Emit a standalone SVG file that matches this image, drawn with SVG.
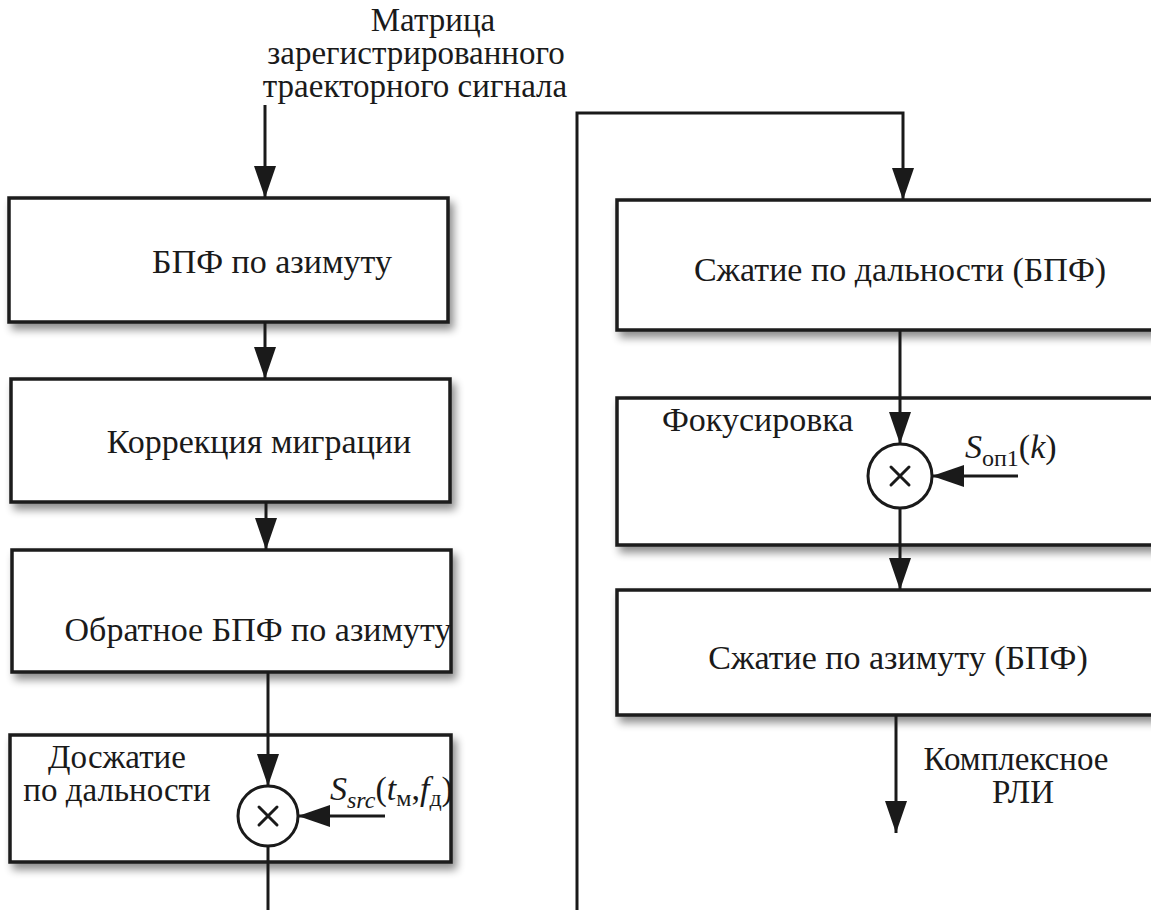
<svg xmlns="http://www.w3.org/2000/svg" width="1151" height="910" viewBox="0 0 1151 910" xml:lang="ru" lang="ru">
  <style>
    .box { fill: #ffffff; stroke: #1a1a1a; stroke-width: 3.5; }
    .wire { fill: none; stroke: #1a1a1a; stroke-width: 3; }
    .mult { fill: #ffffff; stroke: #1a1a1a; stroke-width: 3; }
    .cross { stroke: #1a1a1a; stroke-width: 3; stroke-linecap: round; }
    text { font-family: "Liberation Serif", Tinos, "Times New Roman", "DejaVu Serif", serif; fill: #1a1a1a; }
  </style>
  <defs>
    <marker id="arrow" markerUnits="userSpaceOnUse" markerWidth="32" markerHeight="22" refX="32" refY="11" orient="auto" viewBox="0 0 32 22">
      <path d="M0,0 L32,11 L0,22 Z" fill="#1a1a1a"/>
    </marker>
    <filter id="shadow" x="-5%" y="-10%" width="115%" height="130%">
      <feGaussianBlur in="SourceAlpha" stdDeviation="4"/>
      <feOffset dx="4" dy="6"/>
      <feComponentTransfer><feFuncA type="linear" slope="0.45"/></feComponentTransfer>
      <feMerge><feMergeNode/><feMergeNode in="SourceGraphic"/></feMerge>
    </filter>
  </defs>

  <!-- input label -->
  <g id="input-label">
    <text font-size="33" text-anchor="middle" x="433" y="31">Матрица</text>
    <text font-size="33" text-anchor="middle" x="416" y="64">зарегистрированного</text>
    <text font-size="33" text-anchor="middle" x="415" y="97">траекторного сигнала</text>
  </g>

  <!-- left column -->
  <g id="fft-az">
    <rect class="box" x="9" y="198" width="439" height="124" filter="url(#shadow)"/>
    <text font-size="34" text-anchor="middle" x="272" y="273">БПФ по азимуту</text>
  </g>
  <g id="migration">
    <rect class="box" x="11" y="379" width="439" height="123" filter="url(#shadow)"/>
    <text font-size="34" text-anchor="middle" x="259" y="453">Коррекция миграции</text>
  </g>
  <g id="ifft-az">
    <rect class="box" x="12" y="550" width="439" height="122" filter="url(#shadow)"/>
    <text font-size="34" text-anchor="middle" x="258" y="641">Обратное БПФ по азимуту</text>
  </g>
  <g id="range-recompress">
    <rect class="box" x="10" y="735" width="441" height="127" filter="url(#shadow)"/>
    <text font-size="33" text-anchor="middle" x="117" y="768">Досжатие</text>
    <text font-size="33" text-anchor="middle" x="117" y="801">по дальности</text>
    <circle class="mult" cx="268" cy="816" r="30"/>
    <path class="cross" d="M259,807 L277,825 M277,807 L259,825"/>
    <text font-size="34" x="330" y="800"><tspan font-style="italic">S</tspan><tspan font-style="italic" font-size="24" dy="8">src</tspan><tspan dy="-8">(</tspan><tspan font-style="italic">t</tspan><tspan font-size="24" dy="6">м</tspan><tspan dy="-6">,</tspan><tspan font-style="italic">f</tspan><tspan font-size="24" dy="6">д</tspan><tspan dy="-6">)</tspan></text>
  </g>

  <!-- right column -->
  <g id="range-compress">
    <rect class="box" x="617" y="200" width="540" height="130" filter="url(#shadow)"/>
    <text font-size="34" text-anchor="middle" x="900" y="281">Сжатие по дальности (БПФ)</text>
  </g>
  <g id="focusing">
    <rect class="box" x="617" y="398" width="540" height="147" filter="url(#shadow)"/>
    <text font-size="34" x="662" y="431">Фокусировка</text>
    <circle class="mult" cx="900" cy="476" r="32"/>
    <path class="cross" d="M891,467 L909,485 M909,467 L891,485"/>
    <text font-size="34" x="965" y="458"><tspan font-style="italic">S</tspan><tspan font-size="24" dy="8">оп1</tspan><tspan dy="-8">(</tspan><tspan font-style="italic">k</tspan><tspan>)</tspan></text>
  </g>
  <g id="azimuth-compress">
    <rect class="box" x="617" y="590" width="540" height="125" filter="url(#shadow)"/>
    <text font-size="34" text-anchor="middle" x="898" y="669">Сжатие по азимуту (БПФ)</text>
  </g>
  <g id="output-label">
    <text font-size="33" text-anchor="middle" x="1016" y="770">Комплексное</text>
    <text font-size="33" text-anchor="middle" x="1023" y="803">РЛИ</text>
  </g>

  <!-- connectors -->
  <g id="connectors">
    <line class="wire" x1="265" y1="105" x2="265" y2="198" marker-end="url(#arrow)"/>
    <line class="wire" x1="265" y1="322" x2="265" y2="379" marker-end="url(#arrow)"/>
    <line class="wire" x1="266" y1="502" x2="266" y2="550" marker-end="url(#arrow)"/>
    <line class="wire" x1="268" y1="672" x2="268" y2="786" marker-end="url(#arrow)"/>
    <line class="wire" x1="385" y1="816" x2="298" y2="816" marker-end="url(#arrow)"/>
    <line class="wire" x1="268" y1="846" x2="268" y2="910"/>
    <polyline class="wire" points="577,910 577,113 903,113 903,200" marker-end="url(#arrow)"/>
    <line class="wire" x1="900" y1="330" x2="900" y2="444" marker-end="url(#arrow)"/>
    <line class="wire" x1="1018" y1="476" x2="932" y2="476" marker-end="url(#arrow)"/>
    <line class="wire" x1="900" y1="508" x2="900" y2="590" marker-end="url(#arrow)"/>
    <line class="wire" x1="896" y1="715" x2="896" y2="833" marker-end="url(#arrow)"/>
  </g>
</svg>
